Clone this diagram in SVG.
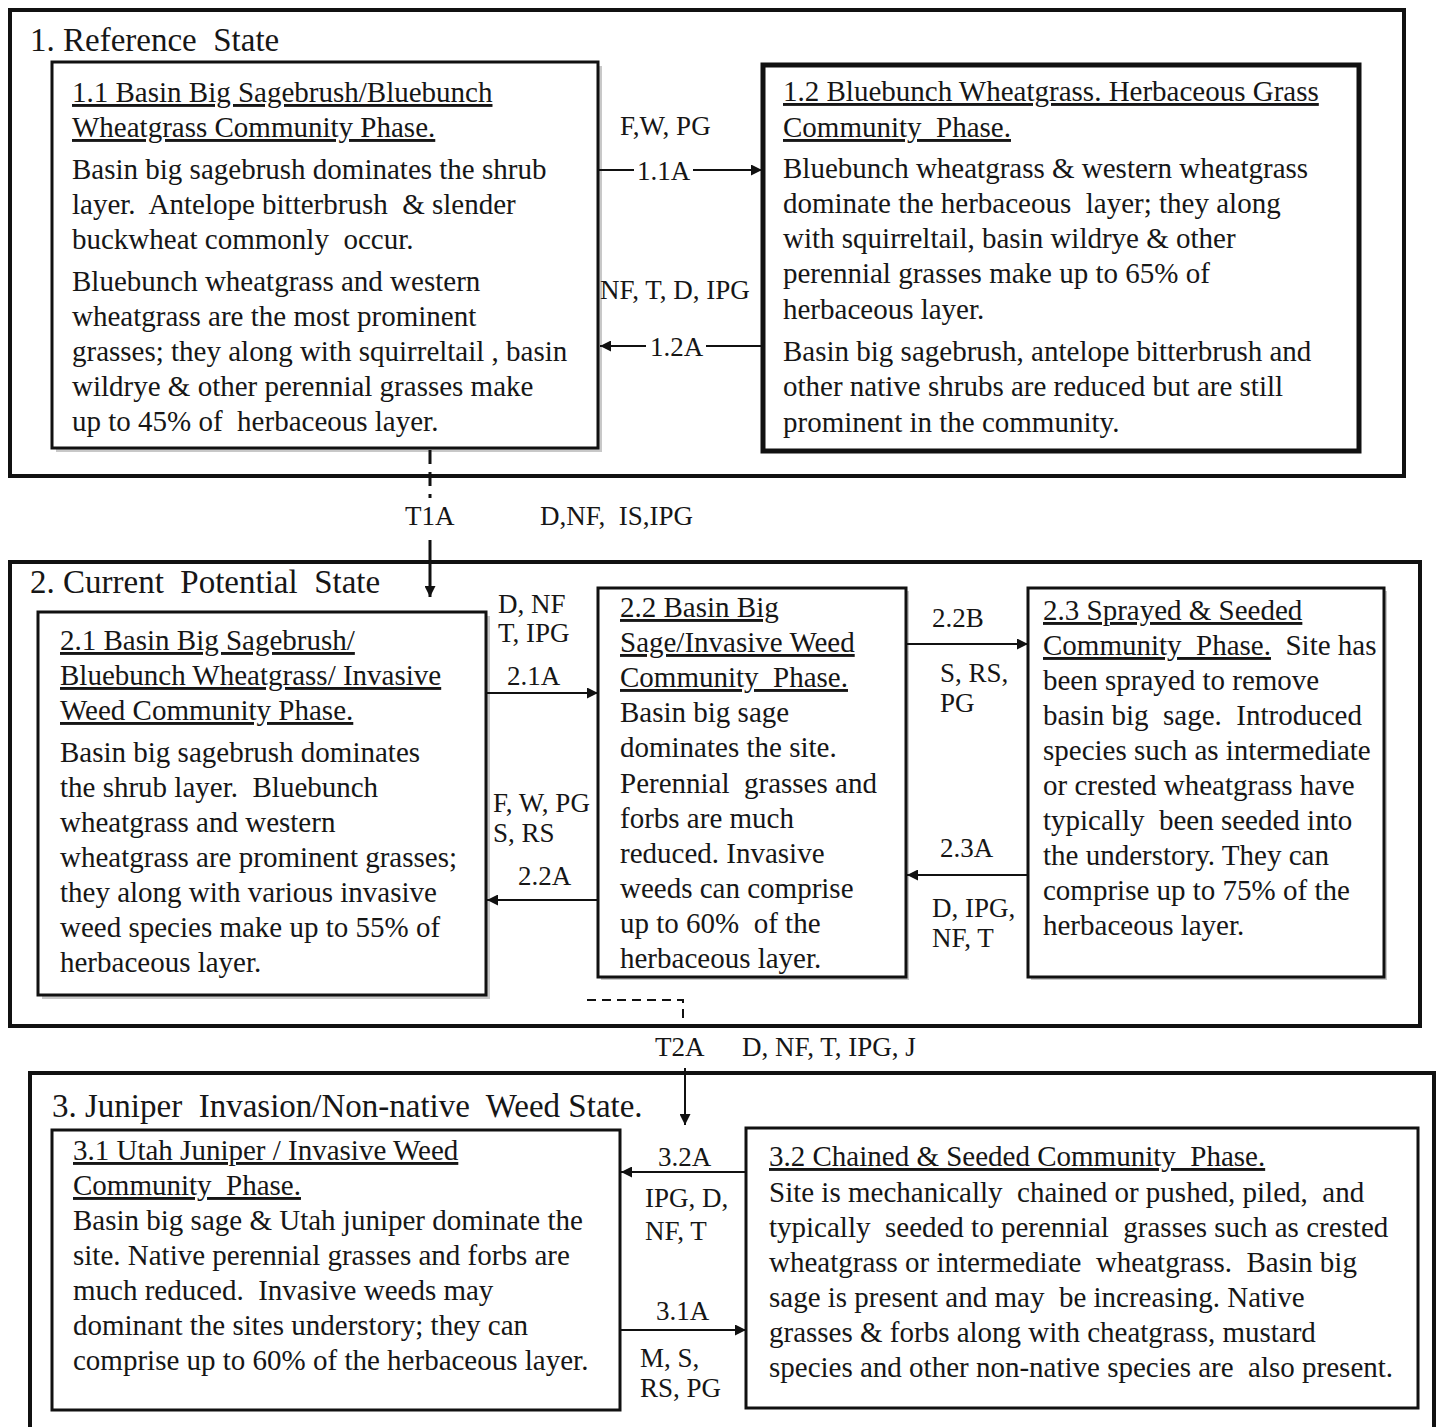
<svg xmlns="http://www.w3.org/2000/svg" width="1442" height="1427" viewBox="0 0 1442 1427">
<style>
.t{font-family:"Liberation Serif","Times New Roman",serif;font-size:29px;fill:#161616;white-space:pre}
.u{text-decoration:underline}
.lbl{font-family:"Liberation Serif","Times New Roman",serif;font-size:27px;fill:#161616;white-space:pre}
.st{font-family:"Liberation Serif","Times New Roman",serif;font-size:33px;fill:#161616;white-space:pre}
.state{fill:none;stroke:#111;stroke-width:4}
.box{fill:#fff;stroke:#111;stroke-width:3}
.sh{fill:#9a9a9a;opacity:.55}
.c{stroke:#111;stroke-width:2;fill:none}
.d{stroke:#111;stroke-width:3;fill:none;stroke-dasharray:14 8}
</style>
<defs>
<marker id="ah" viewBox="0 0 10 10" refX="10" refY="5" markerWidth="12" markerHeight="11" markerUnits="userSpaceOnUse" orient="auto">
<path d="M0,0 L10,5 L0,10 z" fill="#111"/>
</marker>
</defs>
<rect width="1442" height="1427" fill="#fff"/>

<g id="state1">
<rect class="state" x="10" y="10" width="1394" height="466"/>
<text class="st" x="30" y="51">1. Reference  State</text>
</g>

<g id="n11">
<rect class="sh" x="56" y="66" width="546" height="386"/>
<rect class="box" x="52" y="62" width="546" height="386"/>
<text class="t"><tspan class="u" x="72" y="102">1.1 Basin Big Sagebrush/Bluebunch</tspan><tspan class="u" x="72" y="137">Wheatgrass Community Phase.</tspan><tspan x="72" y="179">Basin big sagebrush dominates the shrub</tspan><tspan x="72" y="214">layer.  Antelope bitterbrush  &amp; slender</tspan><tspan x="72" y="249">buckwheat commonly  occur.</tspan><tspan x="72" y="291">Bluebunch wheatgrass and western</tspan><tspan x="72" y="326">wheatgrass are the most prominent</tspan><tspan x="72" y="361">grasses; they along with squirreltail , basin</tspan><tspan x="72" y="396">wildrye &amp; other perennial grasses make</tspan><tspan x="72" y="431">up to 45% of  herbaceous layer.</tspan></text>
</g>

<g id="n12">
<rect class="box" x="763" y="65" width="596" height="386" style="stroke-width:5"/>
<text class="t"><tspan class="u" x="783" y="101">1.2 Bluebunch Wheatgrass. Herbaceous Grass</tspan><tspan class="u" x="783" y="137">Community  Phase.</tspan><tspan x="783" y="178">Bluebunch wheatgrass &amp; western wheatgrass</tspan><tspan x="783" y="213">dominate the herbaceous  layer; they along</tspan><tspan x="783" y="248">with squirreltail, basin wildrye &amp; other</tspan><tspan x="783" y="283">perennial grasses make up to 65% of</tspan><tspan x="783" y="319">herbaceous layer.</tspan><tspan x="783" y="361">Basin big sagebrush, antelope bitterbrush and</tspan><tspan x="783" y="396">other native shrubs are reduced but are still</tspan><tspan x="783" y="432">prominent in the community.</tspan></text>
</g>

<g id="state2">
<rect class="state" x="10" y="562" width="1410" height="464"/>
<text class="st" x="30" y="593">2. Current  Potential  State</text>
</g>

<g id="n21">
<rect class="sh" x="42" y="616" width="448" height="383"/>
<rect class="box" x="38" y="612" width="448" height="383"/>
<text class="t"><tspan class="u" x="60" y="650">2.1 Basin Big Sagebrush/</tspan><tspan class="u" x="60" y="685">Bluebunch Wheatgrass/ Invasive</tspan><tspan class="u" x="60" y="720">Weed Community Phase.</tspan><tspan x="60" y="762">Basin big sagebrush dominates</tspan><tspan x="60" y="797">the shrub layer.  Bluebunch</tspan><tspan x="60" y="832">wheatgrass and western</tspan><tspan x="60" y="867">wheatgrass are prominent grasses;</tspan><tspan x="60" y="902">they along with various invasive</tspan><tspan x="60" y="937">weed species make up to 55% of</tspan><tspan x="60" y="972">herbaceous layer.</tspan></text>
</g>

<g id="n22">
<rect class="sh" x="601" y="591" width="308" height="389"/>
<rect class="box" x="598" y="588" width="308" height="389"/>
<text class="t"><tspan class="u" x="620" y="617">2.2 Basin Big</tspan><tspan class="u" x="620" y="652">Sage/Invasive Weed</tspan><tspan class="u" x="620" y="687">Community  Phase.</tspan><tspan x="620" y="722">Basin big sage</tspan><tspan x="620" y="757">dominates the site.</tspan><tspan x="620" y="793">Perennial  grasses and</tspan><tspan x="620" y="828">forbs are much</tspan><tspan x="620" y="863">reduced. Invasive</tspan><tspan x="620" y="898">weeds can comprise</tspan><tspan x="620" y="933">up to 60%  of the</tspan><tspan x="620" y="968">herbaceous layer.</tspan></text>
</g>

<g id="n23">
<rect class="sh" x="1031" y="591" width="356" height="389"/>
<rect class="box" x="1028" y="588" width="356" height="389"/>
<text class="t"><tspan class="u" x="1043" y="620">2.3 Sprayed &amp; Seeded</tspan><tspan class="u" x="1043" y="655">Community  Phase.</tspan><tspan>  Site has</tspan><tspan x="1043" y="690">been sprayed to remove</tspan><tspan x="1043" y="725">basin big  sage.  Introduced</tspan><tspan x="1043" y="760">species such as intermediate</tspan><tspan x="1043" y="795">or crested wheatgrass have</tspan><tspan x="1043" y="830">typically  been seeded into</tspan><tspan x="1043" y="865">the understory. They can</tspan><tspan x="1043" y="900">comprise up to 75% of the</tspan><tspan x="1043" y="935">herbaceous layer.</tspan></text>
</g>

<g id="state3">
<rect class="state" x="30" y="1073" width="1404" height="380"/>
<text class="st" x="52" y="1117">3. Juniper  Invasion/Non-native  Weed State.</text>
</g>

<g id="n31">
<rect class="box" x="52" y="1130" width="568" height="280"/>
<text class="t"><tspan class="u" x="73" y="1160">3.1 Utah Juniper / Invasive Weed</tspan><tspan class="u" x="73" y="1195">Community  Phase.</tspan><tspan x="73" y="1230">Basin big sage &amp; Utah juniper dominate the</tspan><tspan x="73" y="1265">site. Native perennial grasses and forbs are</tspan><tspan x="73" y="1300">much reduced.  Invasive weeds may</tspan><tspan x="73" y="1335">dominant the sites understory; they can</tspan><tspan x="73" y="1370">comprise up to 60% of the herbaceous layer.</tspan></text>
</g>

<g id="n32">
<rect class="box" x="746" y="1128" width="672" height="280"/>
<text class="t"><tspan class="u" x="769" y="1166">3.2 Chained &amp; Seeded Community  Phase.</tspan><tspan x="769" y="1202">Site is mechanically  chained or pushed, piled,  and</tspan><tspan x="769" y="1237">typically  seeded to perennial  grasses such as crested</tspan><tspan x="769" y="1272">wheatgrass or intermediate  wheatgrass.  Basin big</tspan><tspan x="769" y="1307">sage is present and may  be increasing. Native</tspan><tspan x="769" y="1342">grasses &amp; forbs along with cheatgrass, mustard</tspan><tspan x="769" y="1377">species and other non-native species are  also present.</tspan></text>
</g>

<g id="connectors">
<line class="c" x1="598" y1="170" x2="634" y2="170"/>
<line class="c" x1="693" y1="170" x2="762" y2="170" marker-end="url(#ah)"/>
<text class="lbl" x="637" y="180">1.1A</text>
<text class="lbl" x="620" y="135">F,W, PG</text>
<line class="c" x1="762" y1="346" x2="706" y2="346"/>
<line class="c" x1="646" y1="346" x2="600" y2="346" marker-end="url(#ah)"/>
<text class="lbl" x="650" y="356">1.2A</text>
<text class="lbl" x="600" y="299">NF, T, D, IPG</text>
<line class="d" x1="430" y1="450" x2="430" y2="498"/>
<line class="c" x1="430" y1="540" x2="430" y2="597" style="stroke-width:3" marker-end="url(#ah)"/>
<text class="lbl" x="405" y="525">T1A</text>
<text class="lbl" x="540" y="525">D,NF,  IS,IPG</text>
<line class="c" x1="486" y1="693" x2="598" y2="693" marker-end="url(#ah)"/>
<text class="lbl" x="498" y="613">D, NF</text>
<text class="lbl" x="498" y="642">T, IPG</text>
<text class="lbl" x="507" y="685">2.1A</text>
<line class="c" x1="598" y1="900" x2="487" y2="900" marker-end="url(#ah)"/>
<text class="lbl" x="493" y="812">F, W, PG</text>
<text class="lbl" x="493" y="842">S, RS</text>
<text class="lbl" x="518" y="885">2.2A</text>
<line class="c" x1="906" y1="644" x2="1028" y2="644" marker-end="url(#ah)"/>
<text class="lbl" x="932" y="627">2.2B</text>
<text class="lbl" x="940" y="682">S, RS,</text>
<text class="lbl" x="940" y="712">PG</text>
<line class="c" x1="1028" y1="875" x2="907" y2="875" marker-end="url(#ah)"/>
<text class="lbl" x="940" y="857">2.3A</text>
<text class="lbl" x="932" y="917">D, IPG,</text>
<text class="lbl" x="932" y="947">NF, T</text>
<path class="d" d="M587,1000 H683 V1022" style="stroke-width:2;stroke-dasharray:9 6"/>
<line class="c" x1="685" y1="1068" x2="685" y2="1125" marker-end="url(#ah)"/>
<text class="lbl" x="655" y="1056">T2A</text>
<text class="lbl" x="742" y="1056">D, NF, T, IPG, J</text>
<line class="c" x1="746" y1="1172" x2="621" y2="1172" marker-end="url(#ah)"/>
<text class="lbl" x="658" y="1166">3.2A</text>
<text class="lbl" x="645" y="1207">IPG, D,</text>
<text class="lbl" x="645" y="1240">NF, T</text>
<line class="c" x1="620" y1="1330" x2="746" y2="1330" marker-end="url(#ah)"/>
<text class="lbl" x="656" y="1320">3.1A</text>
<text class="lbl" x="640" y="1367">M, S,</text>
<text class="lbl" x="640" y="1397">RS, PG</text>
</g>
</svg>
